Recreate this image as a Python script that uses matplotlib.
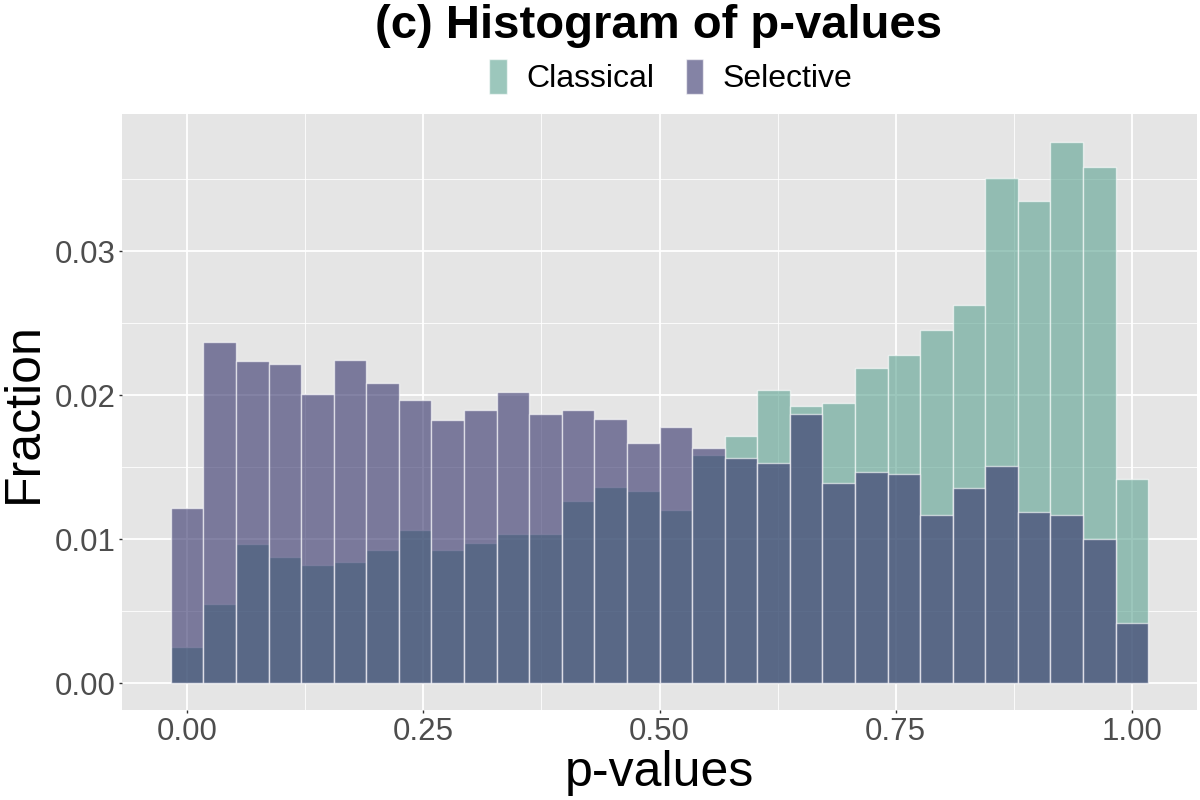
import matplotlib
matplotlib.use('Agg')
import matplotlib.pyplot as plt
from matplotlib.patches import Patch
from matplotlib.ticker import MultipleLocator
import numpy as np

plt.rcParams['font.family'] = ['Liberation Sans', 'DejaVu Sans']

# 30 bins of width 1/29, centred at 0, 1/29, ..., 1
n_bins = 30
classical = [0.00254, 0.00553, 0.00965, 0.00877, 0.00824, 0.00845, 0.00928, 0.01067,
             0.00928, 0.00975, 0.01039, 0.01039, 0.01266, 0.01366, 0.01335, 0.01206,
             0.01585, 0.01715, 0.02037, 0.01926, 0.01948, 0.02188, 0.02280, 0.02450,
             0.02628, 0.03510, 0.03351, 0.03761, 0.03583, 0.01420]
selective = [0.01215, 0.02368, 0.02238, 0.02220, 0.02007, 0.02247, 0.02088, 0.01968,
             0.01829, 0.01897, 0.02026, 0.01868, 0.01896, 0.01835, 0.01667, 0.01778,
             0.01634, 0.01567, 0.01528, 0.01868, 0.01389, 0.01470, 0.01451, 0.01169,
             0.01359, 0.01510, 0.01191, 0.01169, 0.01002, 0.00419]
series_names = ['Classical', 'Selective']
series_colors = ['#5BA290', '#33316A']
alpha = 0.6

binwidth = 1 / (n_bins - 1)
centers = np.arange(n_bins) * binwidth

fig = plt.figure(figsize=(12, 8), dpi=100)
ax = fig.add_axes([0.1017, 0.1119, 0.8958, 0.745])
ax.set_facecolor('#E5E5E5')

for vals, col in zip([classical, selective], series_colors):
    ax.bar(centers, vals, width=binwidth, color=col, alpha=alpha,
           edgecolor=(1, 1, 1, 0.75), linewidth=1.0, zorder=3)

# ggplot-style limits (5% expansion)
xlo, xhi = -binwidth / 2, 1 + binwidth / 2
span = xhi - xlo
ax.set_xlim(xlo - 0.05 * span, xhi + 0.05 * span)
ymax = max(max(classical), max(selective))
ax.set_ylim(-0.05 * ymax, 1.05 * ymax)

ax.xaxis.set_minor_locator(MultipleLocator(0.125))
ax.yaxis.set_minor_locator(MultipleLocator(0.005))
ax.set_xticks([0, 0.25, 0.5, 0.75, 1.0])
ax.set_xticklabels(['0.00', '0.25', '0.50', '0.75', '1.00'])
ax.set_yticks([0, 0.01, 0.02, 0.03])
ax.set_yticklabels(['0.00', '0.01', '0.02', '0.03'])
ax.grid(which='major', color='white', linewidth=1.3, zorder=0)
ax.grid(which='minor', color='white', linewidth=0.6, zorder=0)
ax.set_axisbelow(True)
for s in ax.spines.values():
    s.set_visible(False)
ax.tick_params(which='major', length=2.5, width=1.0, color='#333333',
               labelsize=22.5, labelcolor='#4D4D4D', pad=2)
ax.tick_params(which='minor', length=0)

ax.set_xlabel('p-values', fontsize=36, labelpad=2)
ax.set_ylabel('Fraction', fontsize=36, labelpad=6)

fig.text(0.549, 0.968, '(c) Histogram of p-values', fontsize=34, fontweight='bold',
         ha='center', va='center')

handles = [Patch(facecolor=c, alpha=alpha, edgecolor=(1, 1, 1, 0.75)) for c in series_colors]
fig.legend(handles, series_names, loc='center', bbox_to_anchor=(0.559, 0.904), ncol=2,
           frameon=False, fontsize=23, handlelength=0.55, handleheight=1.3,
           handletextpad=0.6, columnspacing=1.0)

fig.savefig('out.png', dpi=100)
